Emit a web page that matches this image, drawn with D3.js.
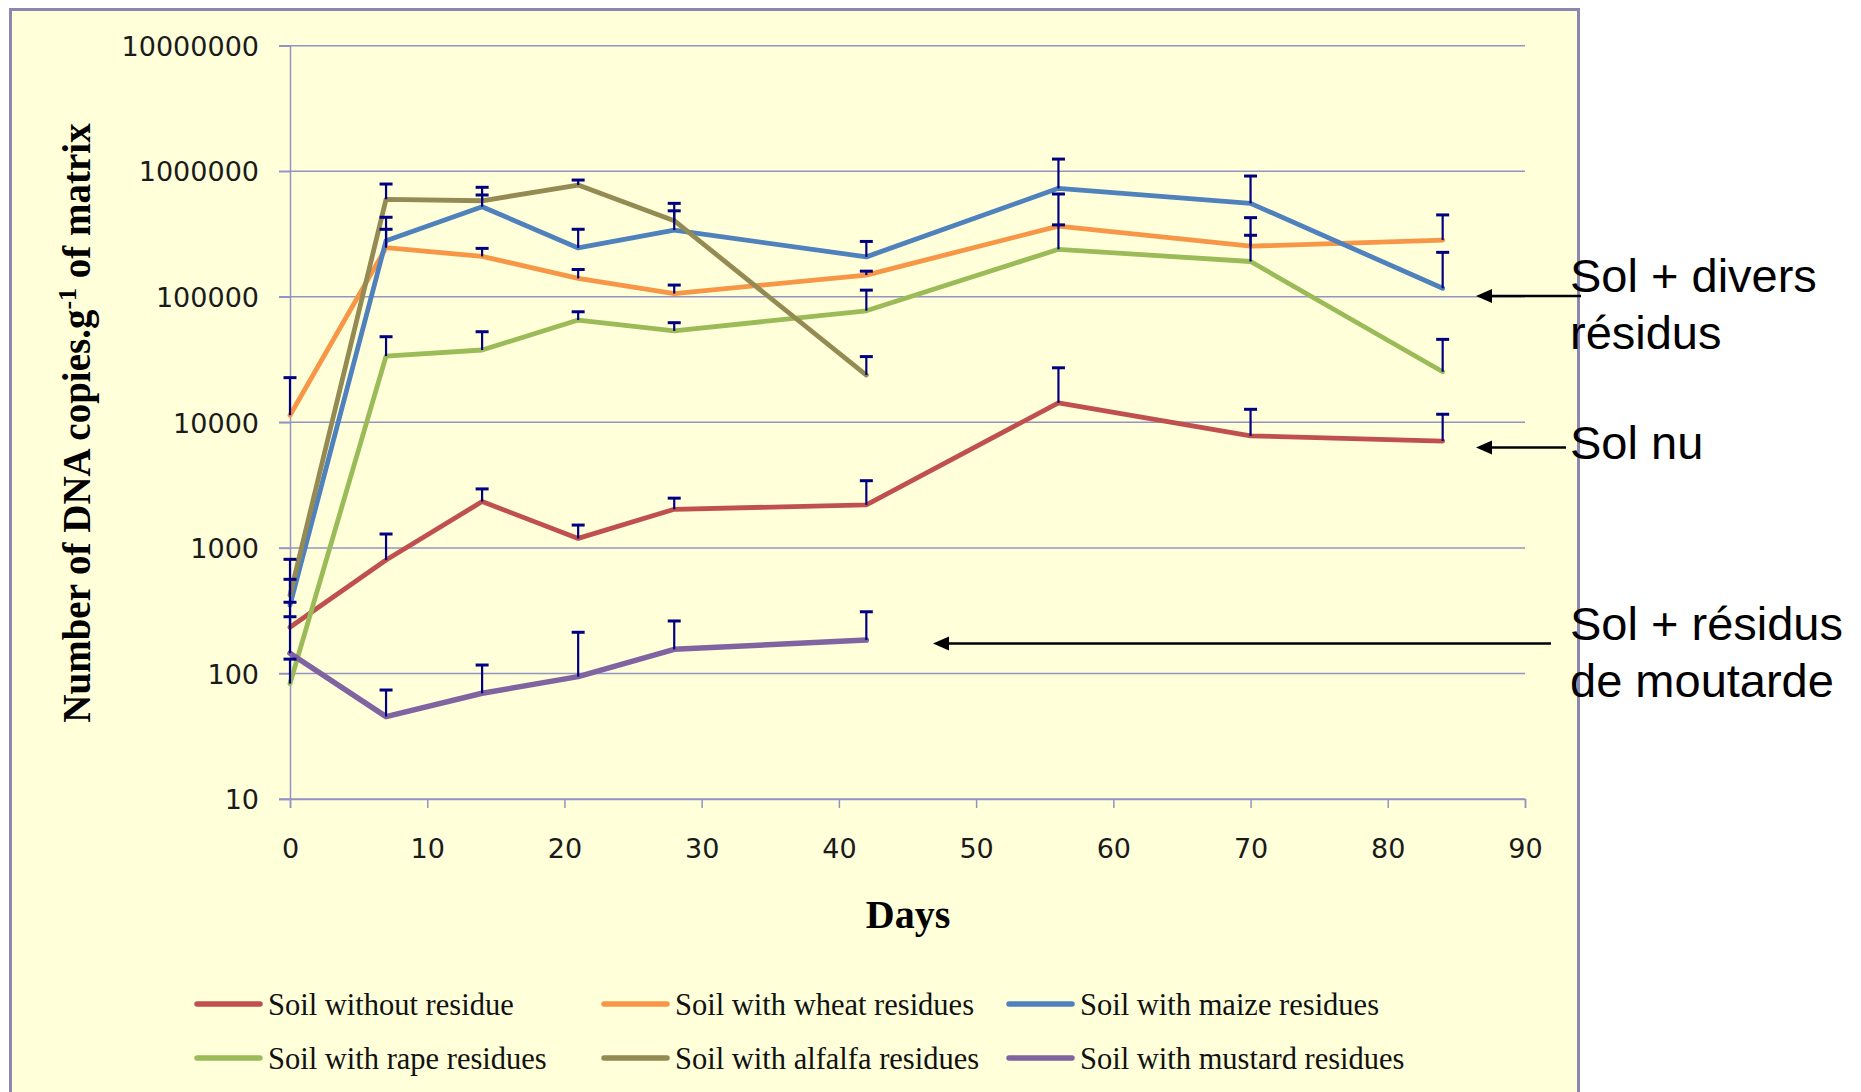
<!DOCTYPE html>
<html>
<head>
<meta charset="utf-8">
<script src="https://cdn.jsdelivr.net/npm/d3@7/dist/d3.min.js"></script>
<style>
  html, body { margin: 0; padding: 0; background: #ffffff; }
  svg { display: block; }
</style>
</head>
<body>
<svg id="chart" width="1861" height="1092"></svg>
<script>
// ---------------- DATA ----------------
const days = [0, 7, 14, 21, 28, 42, 56, 70, 84];
const daysShort = [0, 7, 14, 21, 28, 42];

const seriesNames = [
  "Soil without residue",
  "Soil with wheat residues",
  "Soil with maize residues",
  "Soil with rape residues",
  "Soil with alfalfa residues",
  "Soil with mustard residues"
];

const noneValues    = [233, 800, 2340, 1190, 2030, 2200, 14300, 7800, 7100];
const noneErrTop    = [369, 1290, 2950, 1520, 2490, 3430, 27200, 12700, 11600];

const wheatValues   = [11400, 246000, 210000, 140000, 106000, 149000, 366000, 253000, 283000];
const wheatErrTop   = [22700, 345000, 243000, 165000, 124000, 160000, 659000, 427000, 449000];

const maizeValues   = [350, 280000, 522000, 245000, 340000, 208000, 731000, 555000, 117000];
const maizeErrTop   = [562, 430000, 745000, 345000, 484000, 276000, 1250000, 916000, 226000];

const rapeValues    = [83, 33700, 37700, 65300, 53500, 77400, 239000, 191000, 25300];
const rapeErrTop    = [130, 48100, 52700, 76000, 62200, 113000, 374000, 309000, 45800];

const alfalfaValues = [420, 598000, 582000, 776000, 404000, 23800];
const alfalfaErrTop = [811, 791000, 647000, 851000, 555000, 33400];

const mustardValues = [145, 45.3, 69.5, 94.3, 155.6, 184.5];
const mustardErrTop = [283, 73.8, 116.7, 212.8, 261.8, 310];

const yTickValues = [10, 100, 1000, 10000, 100000, 1000000, 10000000];
const xTickValues = [0, 10, 20, 30, 40, 50, 60, 70, 80, 90];

const seriesColors = ["#C0504D", "#F79646", "#4F81BD", "#9BBB59", "#948A54", "#8064A2"];

const annotations = [
  { lines: ["Sol + divers", "résidus"], from: 1581, to: 1476, ay: 296, ty: 292 },
  { lines: ["Sol nu"], from: 1566, to: 1476, ay: 447.5, ty: 459 },
  { lines: ["Sol + résidus", "de moutarde"], from: 1551, to: 933, ay: 643.5, ty: 640 }
];

// ---------------- BUILD ----------------
const series = [
  { name: seriesNames[0], x: days, v: noneValues, e: noneErrTop },
  { name: seriesNames[1], x: days, v: wheatValues, e: wheatErrTop },
  { name: seriesNames[2], x: days, v: maizeValues, e: maizeErrTop },
  { name: seriesNames[3], x: days, v: rapeValues, e: rapeErrTop },
  { name: seriesNames[4], x: daysShort, v: alfalfaValues, e: alfalfaErrTop },
  { name: seriesNames[5], x: daysShort, v: mustardValues, e: mustardErrTop }
].map((s, i) => ({
  ...s,
  color: seriesColors[i],
  pts: s.x.map((d, j) => ({ d: d, v: s.v[j], e: s.e[j] }))
}));

const svg = d3.select("#chart");
const gridColor = "#9494C4";

// chart area background + border
svg.append("rect")
  .attr("x", 10.5).attr("y", 9.5)
  .attr("width", 1568).attr("height", 1200)
  .attr("fill", "#FFFFD9")
  .attr("stroke", "#8A87B0")
  .attr("stroke-width", 3);

const x = d3.scaleLinear().domain([0, 90]).range([290, 1525]);
const y = d3.scaleLog().domain([10, 1e7]).range([799, 45.7]);

// horizontal gridlines (with left tick stubs)
svg.append("g")
  .selectAll("line")
  .data(yTickValues)
  .join("line")
  .attr("x1", x(0) - 11).attr("x2", x(90))
  .attr("y1", d => y(d)).attr("y2", d => y(d))
  .attr("stroke", gridColor)
  .attr("stroke-width", 1.5);

// y axis
const yAxis = d3.axisLeft(y)
  .tickValues(yTickValues)
  .tickFormat(d3.format("d"))
  .tickSize(11)
  .tickPadding(20);
const gy = svg.append("g").attr("transform", `translate(${x(0)},0)`).call(yAxis);
gy.select(".domain").attr("stroke", gridColor).attr("stroke-width", 1.5);
gy.selectAll(".tick line").attr("stroke", gridColor).attr("stroke-width", 1.5);
gy.selectAll(".tick text")
  .attr("font-family", "'DejaVu Sans', sans-serif")
  .attr("font-size", 27)
  .attr("fill", "#1a1a1a")
  .attr("dy", "0.36em");

// x axis
const xAxis = d3.axisBottom(x)
  .tickValues(xTickValues)
  .tickFormat(d3.format("d"))
  .tickSize(9)
  .tickPadding(31);
const gx = svg.append("g").attr("transform", `translate(0,${y(10)})`).call(xAxis);
gx.select(".domain").attr("stroke", gridColor).attr("stroke-width", 1.5);
gx.selectAll(".tick line").attr("stroke", gridColor).attr("stroke-width", 1.5);
gx.selectAll(".tick text")
  .attr("font-family", "'DejaVu Sans', sans-serif")
  .attr("font-size", 27)
  .attr("fill", "#1a1a1a");

// axis titles
svg.append("text")
  .attr("x", 908).attr("y", 928)
  .attr("text-anchor", "middle")
  .attr("font-family", "'Liberation Serif', 'Times New Roman', serif")
  .attr("font-weight", "bold")
  .attr("font-size", 40)
  .attr("fill", "#000")
  .text("Days");

const yt = svg.append("text")
  .attr("transform", "translate(90,423) rotate(-90)")
  .attr("text-anchor", "middle")
  .attr("font-family", "'Liberation Serif', 'Times New Roman', serif")
  .attr("font-weight", "bold")
  .attr("font-size", 39)
  .attr("fill", "#000");
yt.append("tspan").text("Number of DNA copies.g");
yt.append("tspan").attr("font-size", 26).attr("dy", -14).text("-1");
yt.append("tspan").attr("dy", 14).text(" of matrix");

// lines
const line = d3.line().x(p => x(p.d)).y(p => y(p.v));
svg.append("g")
  .selectAll("path")
  .data(series)
  .join("path")
  .attr("d", s => line(s.pts))
  .attr("fill", "none")
  .attr("stroke", s => s.color)
  .attr("stroke-width", (s, i) => i === 5 ? 5.5 : 4.8)
  .attr("stroke-linejoin", "round")
  .attr("stroke-linecap", "round");

// error bars (upper only)
const errColor = "#000080";
const allPts = series.flatMap(s => s.pts);
const eg = svg.append("g");
eg.selectAll("line.v")
  .data(allPts)
  .join("line")
  .attr("class", "v")
  .attr("x1", p => x(p.d)).attr("x2", p => x(p.d))
  .attr("y1", p => y(p.v)).attr("y2", p => y(p.e))
  .attr("stroke", errColor).attr("stroke-width", 2.2);
eg.selectAll("line.c")
  .data(allPts)
  .join("line")
  .attr("class", "c")
  .attr("x1", p => x(p.d) - 6.5).attr("x2", p => x(p.d) + 6.5)
  .attr("y1", p => y(p.e)).attr("y2", p => y(p.e))
  .attr("stroke", errColor).attr("stroke-width", 3);

// legend
const legendCols = [195, 602, 1007];
const legendRows = [1004, 1058];
const lg = svg.append("g");
series.forEach((s, i) => {
  const cx = legendCols[i % 3];
  const ry = legendRows[Math.floor(i / 3)];
  lg.append("line")
    .attr("x1", cx + 2).attr("x2", cx + 65)
    .attr("y1", ry).attr("y2", ry)
    .attr("stroke", s.color)
    .attr("stroke-width", 5.5)
    .attr("stroke-linecap", "round");
  lg.append("text")
    .attr("x", cx + 73).attr("y", ry + 11)
    .attr("font-family", "'Liberation Serif', 'Times New Roman', serif")
    .attr("font-size", 30.5)
    .attr("fill", "#111")
    .text(s.name);
});

// annotations with arrows
const ag = svg.append("g");
annotations.forEach(a => {
  ag.append("line")
    .attr("x1", a.from).attr("x2", a.to + 14)
    .attr("y1", a.ay).attr("y2", a.ay)
    .attr("stroke", "#000").attr("stroke-width", 2.6);
  ag.append("path")
    .attr("d", `M${a.to},${a.ay} L${a.to + 16},${a.ay - 7} L${a.to + 16},${a.ay + 7} Z`)
    .attr("fill", "#000");
  a.lines.forEach((t, k) => {
    ag.append("text")
      .attr("x", 1570).attr("y", a.ty + k * 57)
      .attr("font-family", "'Liberation Sans', Arial, sans-serif")
      .attr("font-size", 47)
      .attr("fill", "#000")
      .text(t);
  });
});
</script>
</body>
</html>
